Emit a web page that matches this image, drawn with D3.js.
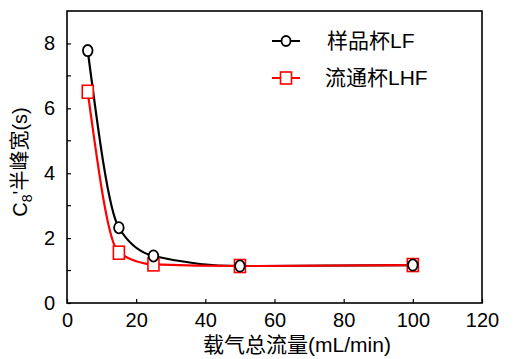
<!DOCTYPE html>
<html>
<head>
<meta charset="utf-8">
<script src="https://cdn.jsdelivr.net/npm/d3@7"></script>
<style>
  body { margin: 0; background: #fff; }
  text { font-family: "Liberation Sans", Arial, "Noto Sans CJK SC", sans-serif; fill: #000; }
</style>
</head>
<body>
<svg id="chart"></svg>
<script>
// data
const flowRates = [6, 15, 25, 50, 100];
const widthLF = [7.78, 2.32, 1.45, 1.14, 1.17];
const widthLHF = [6.51, 1.55, 1.19, 1.14, 1.17];
const seriesNames = ["样品杯LF", "流通杯LHF"];
const xTicks = [0, 20, 40, 60, 80, 100, 120];
const yTicks = [0, 2, 4, 6, 8];
const yMinorTicks = [1, 3, 5, 7];

const W = 515, H = 359;
const margin = {top: 11, right: 33, bottom: 56, left: 67},
    width = W - margin.left - margin.right,
    height = H - margin.top - margin.bottom;

const svg = d3.select("#chart")
    .attr("width", W)
    .attr("height", H)
    .append("g")
    .attr("transform", `translate(${margin.left},${margin.top})`);

const x = d3.scaleLinear().domain([0, 120]).range([0, width]);
const y = d3.scaleLinear().domain([0, 9]).range([height, 0]);

// x axis, ticks pointing inward
const xAxis = svg.append("g")
    .attr("transform", `translate(0,${height})`)
    .call(d3.axisBottom(x).tickValues(xTicks).tickSizeInner(-4).tickSizeOuter(0).tickPadding(10));
xAxis.select(".domain").remove();
xAxis.selectAll("line").attr("stroke-width", 1.2);
xAxis.selectAll("text").attr("font-size", 20).attr("font-family", null);

// y axis
const yAxis = svg.append("g")
    .call(d3.axisLeft(y).tickValues(yTicks).tickSizeInner(-4).tickSizeOuter(0).tickPadding(12));
yAxis.select(".domain").remove();
yAxis.selectAll("line").attr("stroke-width", 1.2);
yAxis.selectAll("text").attr("font-size", 20).attr("font-family", null);

svg.append("g")
    .selectAll("line")
    .data(yMinorTicks)
    .join("line")
    .attr("x1", 0).attr("x2", 4)
    .attr("y1", d => y(d)).attr("y2", d => y(d))
    .attr("stroke", "#000").attr("stroke-width", 1.2);

// frame
svg.append("rect")
    .attr("width", width).attr("height", height)
    .attr("fill", "none").attr("stroke", "#000").attr("stroke-width", 1.6);

const line = d3.line()
    .x(d => x(d[0]))
    .y(d => y(d[1]))
    .curve(d3.curveMonotoneX);

const lf = flowRates.map((f, i) => [f, widthLF[i]]);
const lhf = flowRates.map((f, i) => [f, widthLHF[i]]);

svg.append("path").datum(lf)
    .attr("d", line).attr("fill", "none").attr("stroke", "#000").attr("stroke-width", 2.2);
svg.append("path").datum(lhf)
    .attr("d", line).attr("fill", "none").attr("stroke", "#f00").attr("stroke-width", 2.2);

// markers
svg.append("g").selectAll("rect")
    .data(lhf)
    .join("rect")
    .attr("x", d => x(d[0]) - 5.5)
    .attr("y", d => y(d[1]) - 6.5)
    .attr("width", 11).attr("height", 13)
    .attr("fill", "#fff").attr("stroke", "#f00").attr("stroke-width", 1.6);

svg.append("g").selectAll("ellipse")
    .data(lf)
    .join("ellipse")
    .attr("cx", d => x(d[0]))
    .attr("cy", d => y(d[1]))
    .attr("rx", 4.8).attr("ry", 5.6)
    .attr("fill", "#fff").attr("stroke", "#000").attr("stroke-width", 1.8);

// legend
const legend = svg.append("g").attr("transform", `translate(${272 - margin.left},0)`);
const legendRows = [
  {name: seriesNames[0], color: "#000", cy: 41 - margin.top, shape: "circle"},
  {name: seriesNames[1], color: "#f00", cy: 78 - margin.top, shape: "square"}
];
legendRows.forEach(r => {
  legend.append("line")
      .attr("x1", 0).attr("x2", 28)
      .attr("y1", r.cy).attr("y2", r.cy)
      .attr("stroke", r.color).attr("stroke-width", 2);
  if (r.shape === "circle") {
    legend.append("ellipse")
        .attr("cx", 14).attr("cy", r.cy).attr("rx", 4.5).attr("ry", 5)
        .attr("fill", "#fff").attr("stroke", r.color).attr("stroke-width", 1.8);
  } else {
    legend.append("rect")
        .attr("x", 8.5).attr("y", r.cy - 6).attr("width", 11).attr("height", 12)
        .attr("fill", "#fff").attr("stroke", r.color).attr("stroke-width", 1.6);
  }
  legend.append("text")
      .attr("x", r.shape === "circle" ? 55 : 53)
      .attr("y", r.cy + 7)
      .attr("font-size", 21)
      .text(r.name);
});

// axis titles
svg.append("text")
    .attr("x", 297 - margin.left)
    .attr("y", 352 - margin.top)
    .attr("text-anchor", "middle")
    .attr("font-size", 21)
    .text("载气总流量(mL/min)");

const yTitle = svg.append("text")
    .attr("transform", `translate(${27 - margin.left},${162 - margin.top}) rotate(-90)`)
    .attr("text-anchor", "middle")
    .attr("font-size", 20);
yTitle.append("tspan").text("C");
yTitle.append("tspan").attr("font-size", 14).attr("dy", 5).text("8");
yTitle.append("tspan").attr("dy", -5).text("'半峰宽(s)");
</script>
</body>
</html>
